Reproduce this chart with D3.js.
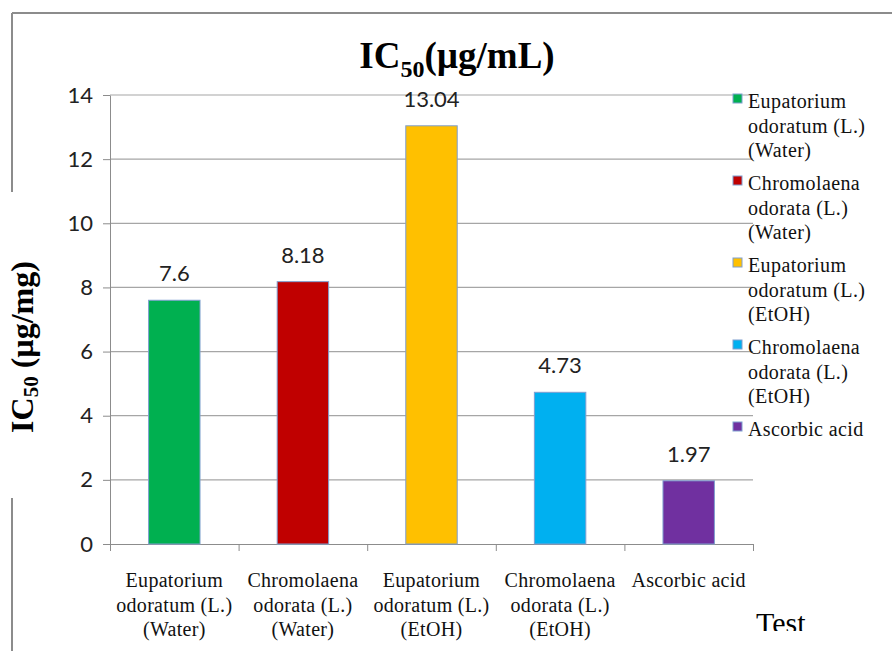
<!DOCTYPE html>
<html>
<head>
<meta charset="utf-8">
<script src="https://cdn.jsdelivr.net/npm/d3@7"></script>
<style>
  body { margin: 0; background: #fff; }
  .axis path, .axis line { stroke: #8c8c8c; }
  .serif { font-family: "Liberation Serif", "Times New Roman", serif; }
</style>
</head>
<body>
<div id="barchart"></div>
<script>
var w = 892, h = 651;
// values
var categories = [
  ["Eupatorium", "odoratum (L.)", "(Water)"],
  ["Chromolaena", "odorata (L.)", "(Water)"],
  ["Eupatorium", "odoratum (L.)", "(EtOH)"],
  ["Chromolaena", "odorata (L.)", "(EtOH)"],
  ["Ascorbic acid"]
];
var values = [7.6, 8.18, 13.04, 4.73, 1.97];
var valueLabels = ["7.6", "8.18", "13.04", "4.73", "1.97"];
var barColors = ["#00b050", "#c00000", "#ffc000", "#00b0f0", "#7030a0"];
var yTicks = [0, 2, 4, 6, 8, 10, 12, 14];

var sans = "Lato, 'Open Sans', sans-serif";

var svg = d3.select("#barchart")
    .append("svg")
    .attr("width", w)
    .attr("height", h);

var plot = {left: 110, right: 753, top: 95, bottom: 544};

var x = d3.scaleBand()
    .domain(d3.range(values.length))
    .range([plot.left, plot.right])
    .paddingInner(0.6)
    .paddingOuter(0.3);
var xEdges = d3.scaleLinear().domain([0, values.length]).range([plot.left, plot.right]);
var y = d3.scaleLinear().domain([0, 14]).range([plot.bottom, plot.top]);

// outer frame (left side broken by the axis title)
svg.append("line").attr("x1", 12).attr("x2", w).attr("y1", 13).attr("y2", 13)
    .attr("stroke", "#8c8c8c").attr("stroke-width", 2);
svg.append("line").attr("x1", 12).attr("x2", 12).attr("y1", 13).attr("y2", 192)
    .attr("stroke", "#8c8c8c").attr("stroke-width", 2);
svg.append("line").attr("x1", 12).attr("x2", 12).attr("y1", 498).attr("y2", h)
    .attr("stroke", "#8c8c8c").attr("stroke-width", 2);

// gridlines
svg.append("g")
    .selectAll("line")
    .data(yTicks.filter(function(d) { return d > 0; }))
    .enter().append("line")
      .attr("x1", plot.left)
      .attr("x2", plot.right)
      .attr("y1", function(d) { return y(d); })
      .attr("y2", function(d) { return y(d); })
      .attr("stroke", "#a6a6a6")
      .attr("stroke-width", 1.2);

// y axis
var yAxis = svg.append("g")
    .attr("class", "axis")
    .attr("transform", "translate(" + plot.left + ",0)")
    .call(d3.axisLeft(y).tickValues(yTicks).tickSize(7).tickPadding(10).tickSizeOuter(0));
yAxis.selectAll("text")
    .style("font-family", sans)
    .style("font-size", "22px")
    .attr("fill", "#222");

// x axis (ticks at category edges)
svg.append("g")
    .attr("class", "axis")
    .attr("transform", "translate(0," + plot.bottom + ")")
    .call(d3.axisBottom(xEdges).tickValues(d3.range(values.length + 1)).tickSize(7).tickSizeOuter(0).tickFormat(""));

// bars
svg.selectAll(".bar")
    .data(values)
    .enter().append("rect")
      .attr("class", "bar")
      .attr("x", function(d, i) { return x(i); })
      .attr("y", function(d) { return y(d); })
      .attr("width", x.bandwidth())
      .attr("height", function(d) { return plot.bottom - y(d); })
      .attr("fill", function(d, i) { return barColors[i]; })
      .attr("stroke", "#7f9fd0")
      .attr("stroke-width", 1);

// value labels
svg.selectAll(".vlabel")
    .data(values)
    .enter().append("text")
      .attr("class", "vlabel")
      .attr("x", function(d, i) { return x(i) + x.bandwidth() / 2; })
      .attr("y", function(d) { return y(d) - 19; })
      .attr("text-anchor", "middle")
      .style("font-family", sans)
      .style("font-size", "22px")
      .attr("fill", "#222")
      .text(function(d, i) { return valueLabels[i]; });

// category labels
var catText = svg.selectAll(".clabel")
    .data(categories)
    .enter().append("text")
      .attr("class", "clabel serif")
      .attr("text-anchor", "middle")
      .style("font-size", "20px")
      .style("letter-spacing", "0.3px")
      .attr("fill", "#111");
catText.selectAll("tspan")
    .data(function(d, i) { return d.map(function(t) { return {t: t, i: i}; }); })
    .enter().append("tspan")
      .attr("x", function(d) { return x(d.i) + x.bandwidth() / 2; })
      .attr("y", function(d, j) { return 587 + j * 24.5; })
      .text(function(d) { return d.t; });

// axis titles
svg.append("text")
    .attr("class", "serif")
    .attr("x", 457)
    .attr("y", 68)
    .attr("text-anchor", "middle")
    .style("font-weight", "bold")
    .style("font-size", "37px")
    .attr("fill", "#000")
    .call(function(t) {
      t.append("tspan").text("IC");
      t.append("tspan").attr("dy", 9).style("font-size", "24px").text("50");
      t.append("tspan").attr("dy", -9).text("(µg/mL)");
    });

svg.append("text")
    .attr("class", "serif")
    .attr("transform", "translate(33,347) rotate(-90)")
    .attr("text-anchor", "middle")
    .style("font-weight", "bold")
    .style("font-size", "32px")
    .attr("fill", "#000")
    .call(function(t) {
      t.append("tspan").text("IC");
      t.append("tspan").attr("dy", 5).style("font-size", "21px").text("50");
      t.append("tspan").attr("dy", -5).text(" (µg/mg)");
    });

// "Test" label, clipped at the bottom like the original
svg.append("clipPath").attr("id", "testClip")
  .append("rect").attr("x", 700).attr("y", 560).attr("width", 192).attr("height", 71);
svg.append("text")
    .attr("class", "serif")
    .attr("clip-path", "url(#testClip)")
    .attr("x", 756)
    .attr("y", 633)
    .style("font-size", "30px")
    .attr("fill", "#000")
    .text("Test");

// legend
var legend = svg.append("g").attr("class", "legend");
var legendItems = legend.selectAll("g")
    .data(categories)
    .enter().append("g")
      .attr("transform", function(d, i) { return "translate(733," + (102 + i * 82) + ")"; });
legendItems.append("rect")
    .attr("x", 0)
    .attr("y", -8)
    .attr("width", 9)
    .attr("height", 9)
    .attr("fill", function(d, i) { return barColors[i]; })
    .attr("stroke", "#7f9fd0");
legendItems.append("text")
    .attr("class", "serif")
    .style("font-size", "20px")
    .style("letter-spacing", "0.4px")
    .attr("fill", "#111")
    .selectAll("tspan")
    .data(function(d) { return d; })
    .enter().append("tspan")
      .attr("x", 15)
      .attr("y", function(d, j) { return 6 + j * 24.5; })
      .text(function(d) { return d; });
</script>
</body>
</html>
